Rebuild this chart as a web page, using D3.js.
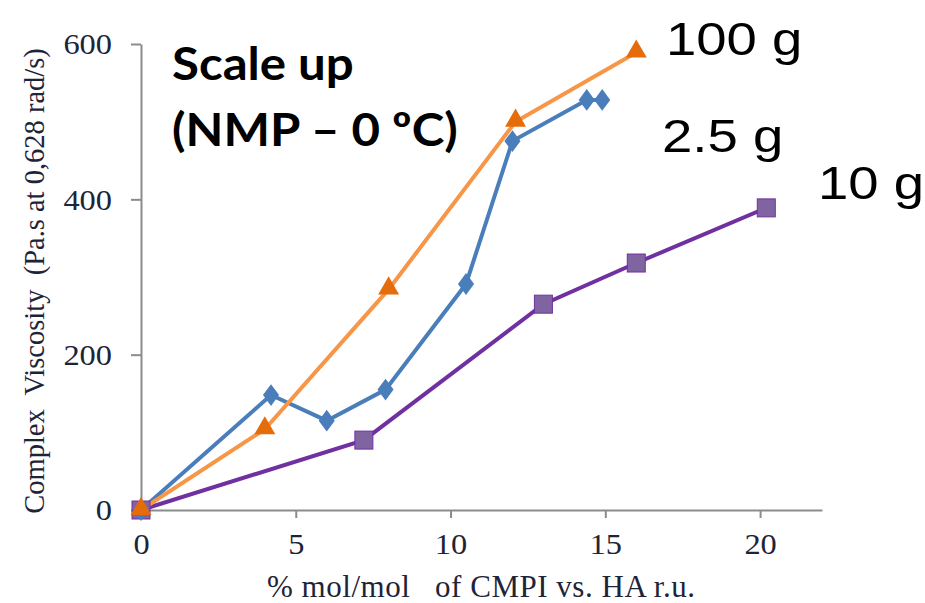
<!DOCTYPE html>
<html>
<head>
<meta charset="utf-8">
<script src="https://cdn.jsdelivr.net/npm/d3@7"></script>
<style>
  body { margin: 0; background: #ffffff; }
</style>
</head>
<body>
<script>
// chart data
var xTicks = [0, 5, 10, 15, 20];
var yTicks = [0, 200, 400, 600];

var x25 = [0, 4.2, 6.0, 7.9, 10.5, 12.0, 14.4, 14.9];
var y25 = [0, 148, 115, 155, 291, 475, 528, 528];

var x100 = [0, 4.0, 8.0, 12.1, 16.0];
var y100 = [0, 104, 284, 500, 589];

var x10 = [0, 7.2, 13.0, 16.0, 20.2];
var y10 = [0, 90, 265, 318, 389];

var seriesNames = ["2.5 g", "100 g", "10 g"];

// canvas sizes
var canvasX = 925;
var canvasY = 603;
var plotLeft = 141;
var plotRight = 822;
var plotTop = 44;
var plotBottom = 510;

var svg = d3.select("body")
            .append("svg")
            .attr("width", canvasX)
            .attr("height", canvasY);

// scales
var scaleX = d3.scaleLinear().domain([0, 22]).range([plotLeft, plotRight]);
var scaleY = d3.scaleLinear().domain([0, 600]).range([plotBottom, plotTop]);

// x axis
var xAxis = d3.axisBottom(scaleX).tickValues(xTicks).tickSize(8).tickSizeOuter(0);
var gx = svg.append("g")
            .attr("transform", "translate(0," + plotBottom + ")")
            .call(xAxis);

// y axis
var yAxis = d3.axisLeft(scaleY).tickValues(yTicks).tickSize(10).tickSizeOuter(0);
var gy = svg.append("g")
            .attr("transform", "translate(" + plotLeft + ",0)")
            .call(yAxis);

[gx, gy].forEach(function(g) {
    g.select(".domain").attr("stroke", "#8c8c8c").attr("stroke-width", 2);
    g.selectAll(".tick line").attr("stroke", "#8c8c8c").attr("stroke-width", 2);
    g.selectAll(".tick text")
     .attr("fill", "#1e2438")
     .style("font-family", "Liberation Serif")
     .style("font-size", "30px");
});
gx.selectAll(".tick text").attr("y", 0).attr("dy", 0)
  .attr("transform", "translate(0,44) scale(1.08,1)");
gy.selectAll(".tick text").attr("x", 0).attr("dy", "0.33em")
  .attr("transform", "translate(-29,0) scale(1.08,1)");

// axis titles
svg.append("text")
   .attr("x", 481)
   .attr("y", 597)
   .attr("text-anchor", "middle")
   .attr("fill", "#1e2438")
   .attr("textLength", 428)
   .attr("lengthAdjust", "spacing")
   .style("font-family", "Liberation Serif")
   .style("font-size", "31px")
   .style("white-space", "pre")
   .text("% mol/mol   of CMPI vs. HA r.u.");

svg.append("text")
   .attr("transform", "translate(44,281) rotate(-90)")
   .attr("text-anchor", "middle")
   .attr("fill", "#1e2438")
   .style("font-family", "Liberation Serif")
   .style("font-size", "28.5px")
   .style("white-space", "pre")
   .text("Complex  Viscosity  (Pa.s at 0,628 rad/s)");

// lines
var line = d3.line()
             .x(function(d) { return scaleX(d[0]); })
             .y(function(d) { return scaleY(d[1]); });

function pairs(xs, ys) {
    return xs.map(function(v, i) { return [v, ys[i]]; });
}

var data10 = pairs(x10, y10);
var data25 = pairs(x25, y25);
var data100 = pairs(x100, y100);

svg.append("path").datum(data10).attr("d", line)
   .attr("fill", "none").attr("stroke", "#7030a0").attr("stroke-width", 4);
svg.append("path").datum(data25).attr("d", line)
   .attr("fill", "none").attr("stroke", "#4a7ebb").attr("stroke-width", 4);
svg.append("path").datum(data100).attr("d", line)
   .attr("fill", "none").attr("stroke", "#f79646").attr("stroke-width", 4);

// markers
svg.selectAll(".sq").data(data10).enter().append("rect")
   .attr("class", "sq")
   .attr("x", function(d) { return scaleX(d[0]) - 9; })
   .attr("y", function(d) { return scaleY(d[1]) - 9; })
   .attr("width", 18).attr("height", 18)
   .attr("fill", "#8064a2").attr("stroke", "#7030a0").attr("stroke-width", 1);

var diamond = d3.symbol().type(d3.symbolDiamond).size(170);
svg.selectAll(".dm").data(data25).enter().append("path")
   .attr("class", "dm")
   .attr("d", diamond)
   .attr("transform", function(d) { return "translate(" + scaleX(d[0]) + "," + scaleY(d[1]) + ") scale(1.15,0.9)"; })
   .attr("fill", "#4a7ebb");

var tri = d3.symbol().type(d3.symbolTriangle).size(190);
svg.selectAll(".tr").data(data100).enter().append("path")
   .attr("class", "tr")
   .attr("d", tri)
   .attr("transform", function(d) { return "translate(" + scaleX(d[0]) + "," + (scaleY(d[1]) - 1) + ")"; })
   .attr("fill", "#e46c0a");

// series labels
var labelPos = [[662, 152], [666, 55], [818, 199]];
seriesNames.forEach(function(name, i) {
    svg.append("text")
       .attr("transform", "translate(" + labelPos[i][0] + "," + labelPos[i][1] + ") scale(1.16,1)")
       .attr("fill", "#000000")
       .style("font-family", "'Liberation Sans', Arial, sans-serif")
       .style("font-size", "47px")
       .text(name);
});

// title
svg.append("text")
   .attr("transform", "translate(172,80) scale(1.07,1)")
   .style("font-family", "Lato")
   .style("font-weight", "bold")
   .style("font-size", "46px")
   .text("Scale up");
svg.append("text")
   .attr("transform", "translate(172,146) scale(1.07,1)")
   .style("font-family", "Lato")
   .style("font-weight", "bold")
   .style("font-size", "46px")
   .text("(NMP \u2013 0 \u00baC)");
</script>
</body>
</html>
